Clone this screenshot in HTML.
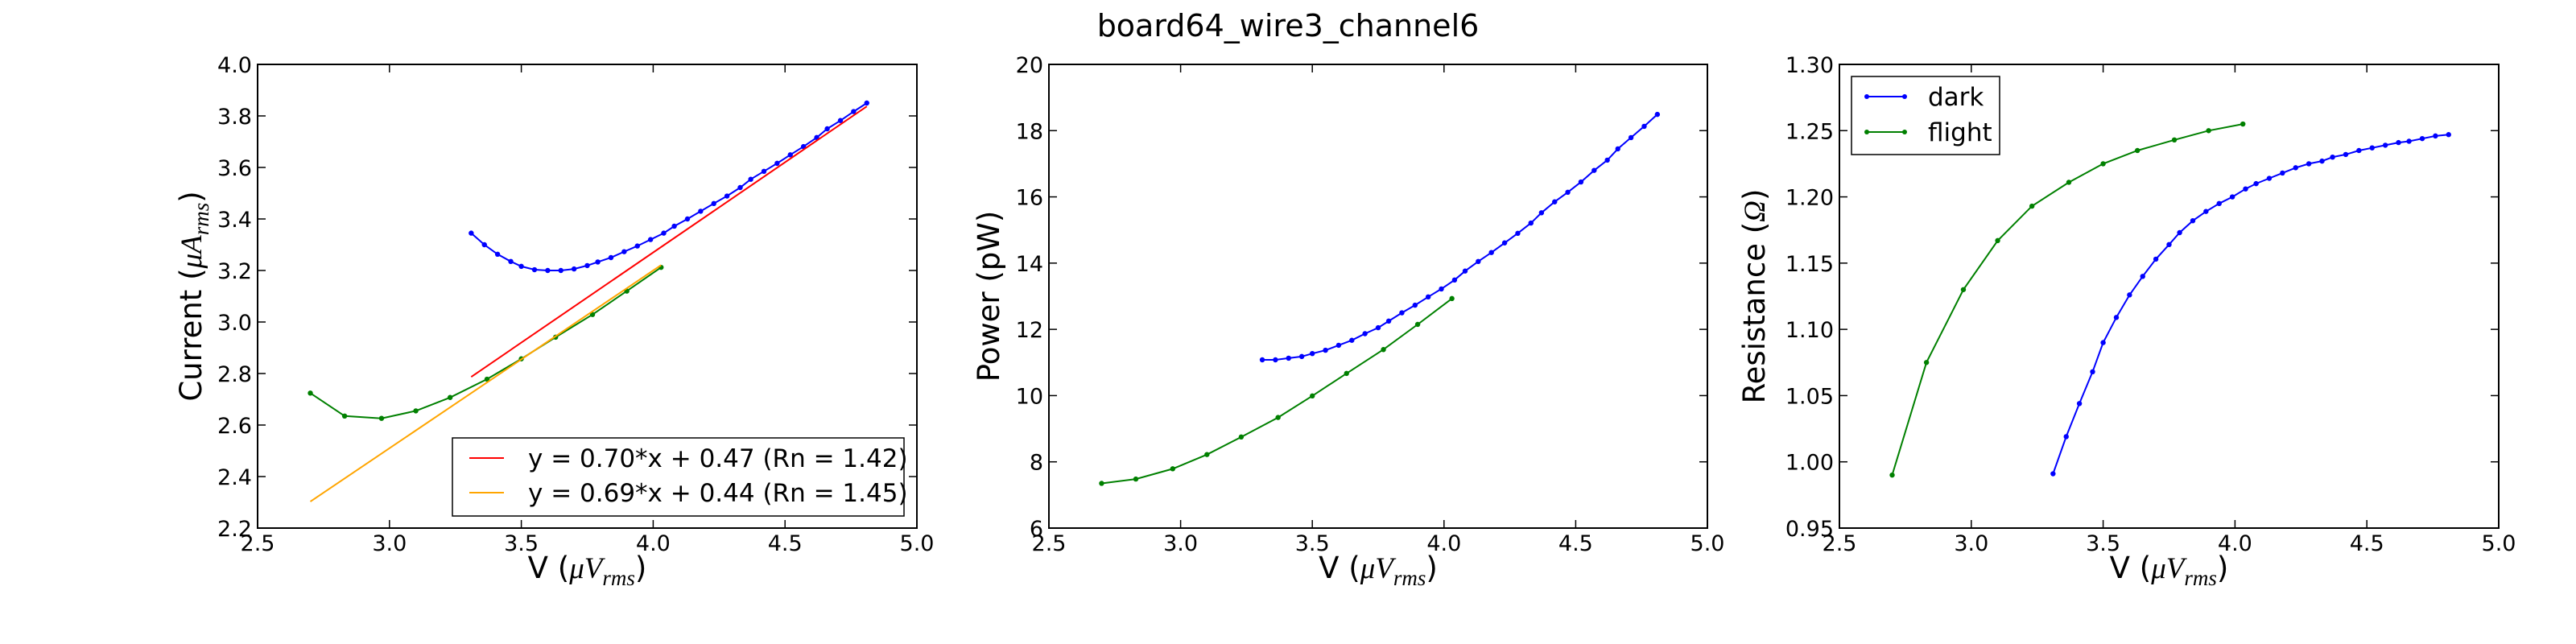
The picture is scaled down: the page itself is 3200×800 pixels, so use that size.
<!DOCTYPE html>
<html><head><meta charset="utf-8"><style>
html,body{margin:0;padding:0;background:#fff;}
svg{display:block;font-family:"DejaVu Sans","Liberation Sans",sans-serif;}
</style></head><body>
<svg id="fig" width="3200" height="800" viewBox="0 0 3200 800" xmlns="http://www.w3.org/2000/svg">
<rect width="3200" height="800" fill="#fff"/>
<text x="1600" y="45" font-size="38" text-anchor="middle">board64_wire3_channel6</text>
</svg>
<script>
const darkV = [3.31,3.36,3.41,3.46,3.50,3.55,3.60,3.65,3.70,3.75,3.79,3.84,3.89,3.94,3.99,4.04,4.08,4.13,4.18,4.23,4.28,4.33,4.37,4.42,4.47,4.52,4.57,4.62,4.66,4.71,4.76,4.81];
const flightV = [2.70,2.83,2.97,3.10,3.23,3.37,3.50,3.63,3.77,3.90,4.03];
const darkI = [3.345,3.30,3.263,3.235,3.216,3.203,3.20,3.20,3.206,3.219,3.233,3.25,3.273,3.295,3.32,3.345,3.372,3.40,3.43,3.46,3.489,3.522,3.554,3.585,3.616,3.649,3.681,3.716,3.75,3.782,3.817,3.85];
const flightI = [2.724,2.635,2.626,2.655,2.707,2.778,2.857,2.941,3.029,3.12,3.212];
const darkP = [11.08,11.08,11.13,11.18,11.27,11.37,11.52,11.67,11.87,12.05,12.25,12.50,12.73,12.98,13.22,13.49,13.76,14.05,14.32,14.61,14.90,15.21,15.52,15.85,16.14,16.45,16.80,17.11,17.45,17.79,18.13,18.49];
const flightP = [7.35,7.48,7.79,8.22,8.75,9.34,9.99,10.67,11.39,12.15,12.93];
const darkR = [0.991,1.019,1.044,1.068,1.090,1.109,1.126,1.140,1.153,1.164,1.173,1.182,1.189,1.195,1.200,1.206,1.210,1.214,1.218,1.222,1.225,1.227,1.230,1.232,1.235,1.237,1.239,1.241,1.242,1.244,1.246,1.247];
const flightR = [0.990,1.075,1.130,1.167,1.193,1.211,1.225,1.235,1.243,1.250,1.255];
const fitSlopes = [0.70,0.69];
const fitIntercepts = [0.47,0.44];
const fitRanges = [[3.31,4.81],[2.70,4.03]];
const fitLabels = ["y = 0.70*x + 0.47 (Rn = 1.42)","y = 0.69*x + 0.44 (Rn = 1.45)"];
const xTicks = ["2.5","3.0","3.5","4.0","4.5","5.0"];
const yTicks1 = ["2.2","2.4","2.6","2.8","3.0","3.2","3.4","3.6","3.8","4.0"];
const yTicks2 = ["6","8","10","12","14","16","18","20"];
const yTicks3 = ["0.95","1.00","1.05","1.10","1.15","1.20","1.25","1.30"];

const NS="http://www.w3.org/2000/svg";
const svg=document.getElementById('fig');
function mk(tag,attrs,parent){const e=document.createElementNS(NS,tag);for(const k in attrs)e.setAttribute(k,attrs[k]);(parent||svg).appendChild(e);return e;}
const TOP=80,BOT=656;

function panel(id,left,right,ymin,ymax,yt,ylabelHTML,ylx){
  const g=mk('g',{});
  
  
  const sx=v=>left+(v-2.5)/2.5*(right-left);
  const sy=v=>BOT-(v-ymin)/(ymax-ymin)*(BOT-TOP);
  xTicks.forEach(t=>{const x=sx(parseFloat(t));
    mk('line',{x1:x,x2:x,y1:BOT,y2:BOT-10,stroke:'#000','stroke-width':1.5},g);
    mk('line',{x1:x,x2:x,y1:TOP,y2:TOP+10,stroke:'#000','stroke-width':1.5},g);
    const tx=mk('text',{x:x,y:684,'font-size':27,'text-anchor':'middle'},g);tx.textContent=t;
    
    
  });
  yt.forEach(t=>{const y=sy(parseFloat(t));
    mk('line',{x1:left,x2:left+10,y1:y,y2:y,stroke:'#000','stroke-width':1.5},g);
    mk('line',{x1:right,x2:right-10,y1:y,y2:y,stroke:'#000','stroke-width':1.5},g);
    const tx=mk('text',{x:left-7,y:y+10,'font-size':27,'text-anchor':'end'},g);tx.textContent=t;
    
    
  });
  const xl=mk('text',{x:(left+right)/2,y:718,'font-size':37,'text-anchor':'middle'},g);
  xl.innerHTML='V (<tspan font-family="Liberation Serif,serif" font-style="italic">μV</tspan><tspan font-family="Liberation Serif,serif" font-style="italic" font-size="27" dy="9">rms</tspan><tspan dy="-9">)</tspan>';
  
  
  const yl=mk('text',{x:0,y:0,'font-size':37,'text-anchor':'middle',transform:`translate(${ylx},${(TOP+BOT)/2}) rotate(-90)`},g);
  yl.innerHTML=ylabelHTML;
  
  
  return {g,sx,sy,left,right};
}
function series(p,xs,ys,color,name){
  const pts=xs.map((v,i)=>p.sx(v).toFixed(1)+','+p.sy(ys[i]).toFixed(1)).join(' ');
  const l=mk('polyline',{points:pts,fill:'none',stroke:color,'stroke-width':2},p.g);
  
  
  xs.forEach((v,i)=>{const c=mk('circle',{cx:p.sx(v),cy:p.sy(ys[i]),r:3.2,fill:color},p.g);
    
    });
}
function frame(p){mk('rect',{x:p.left,y:TOP,width:p.right-p.left,height:BOT-TOP,fill:'none',stroke:'#000','stroke-width':2},p.g);}

const sub='<tspan font-family="Liberation Serif,serif" font-style="italic" font-size="27" dy="9">rms</tspan><tspan dy="-9">)</tspan>';
const p1=panel('current',320,1139,2.2,4.0,yTicks1,'Current (<tspan font-family="Liberation Serif,serif" font-style="italic">μA</tspan>'+sub,250);
series(p1,darkV,darkI,'#0000ff','dark-current');
series(p1,flightV,flightI,'#008000','flight-current');
const fitColors=['#ff0000','#ffa500'];
fitSlopes.forEach((m,i)=>{const [a,b]=fitRanges[i];
  const l=mk('line',{x1:p1.sx(a),y1:p1.sy(m*a+fitIntercepts[i]),x2:p1.sx(b),y2:p1.sy(m*b+fitIntercepts[i]),stroke:fitColors[i],'stroke-width':2},p1.g);
  
  
});
frame(p1);
const lg1=mk('g',{});


mk('rect',{x:562,y:544,width:561,height:97,fill:'#fff',stroke:'#000','stroke-width':1.5},lg1);
fitLabels.forEach((t,i)=>{const y=569+i*43;
  mk('line',{x1:583,x2:626,y1:y,y2:y,stroke:fitColors[i],'stroke-width':2},lg1);
  const tx=mk('text',{x:656,y:y+11,'font-size':31},lg1);tx.textContent=t;
  
  
});

const p2=panel('power',1303,2121,6,20,yTicks2,'Power (pW)',1241);
series(p2,darkV,darkP,'#0000ff','dark-power');
series(p2,flightV,flightP,'#008000','flight-power');
frame(p2);

const p3=panel('resistance',2285,3104,0.95,1.30,yTicks3,'Resistance (<tspan font-family="Liberation Serif,serif" font-style="italic">Ω</tspan>)',2192);
series(p3,darkV,darkR,'#0000ff','dark-resistance');
series(p3,flightV,flightR,'#008000','flight-resistance');
frame(p3);
const lg3=mk('g',{});


mk('rect',{x:2300,y:95,width:184,height:97,fill:'#fff',stroke:'#000','stroke-width':1.5},lg3);
[['dark','#0000ff'],['flight','#008000']].forEach(([t,c],i)=>{const y=120+i*44;
  mk('line',{x1:2319,x2:2366,y1:y,y2:y,stroke:c,'stroke-width':2},lg3);
  mk('circle',{cx:2319,cy:y,r:3,fill:c},lg3);mk('circle',{cx:2366,cy:y,r:3,fill:c},lg3);
  const tx=mk('text',{x:2395,y:y+11,'font-size':31},lg3);tx.textContent=t;
  
  
});
</script>
</body></html>
